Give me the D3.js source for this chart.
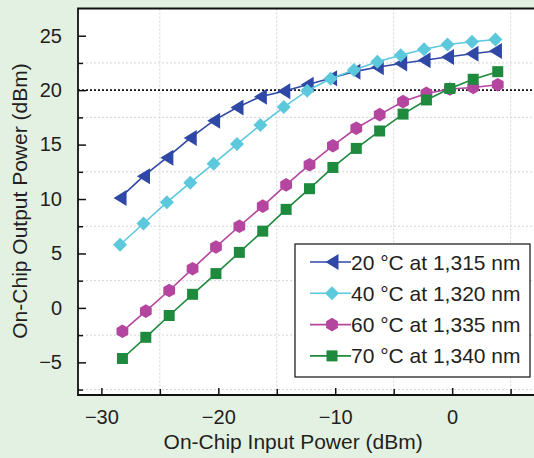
<!DOCTYPE html>
<html>
<head>
<meta charset="utf-8">
<script src="https://cdn.jsdelivr.net/npm/d3@7"></script>
<style>
  html, body { margin: 0; padding: 0; background: #e3f1e3; }
  svg { display: block; font-family: "Liberation Sans", Arial, sans-serif; }
</style>
</head>
<body>
<div id="chart"></div>
<script>
// input power (dBm) for each series
const inputA = [-28.4, -26.4, -24.4, -22.4, -20.4, -18.4, -16.4, -14.4, -12.4, -10.4, -8.4, -6.4, -4.4, -2.4, -0.4, 1.7, 3.7]
const inputB = [-28.2, -26.2, -24.2, -22.2, -20.2, -18.2, -16.2, -14.2, -12.2, -10.2, -8.2, -6.2, -4.2, -2.2, -0.2, 1.8, 3.9]

// output power (dBm)
const out20 = [10.1, 12.1, 13.8, 15.6, 17.2, 18.4, 19.4, 19.9, 20.5, 21.1, 21.7, 22.1, 22.45, 22.75, 23.05, 23.35, 23.6]
const out40 = [5.8, 7.75, 9.7, 11.5, 13.25, 15.05, 16.8, 18.45, 19.95, 21.05, 21.85, 22.6, 23.2, 23.75, 24.2, 24.45, 24.65]
const out60 = [-2.15, -0.3, 1.6, 3.6, 5.6, 7.5, 9.35, 11.3, 13.15, 14.9, 16.5, 17.75, 18.95, 19.7, 20.1, 20.25, 20.5]
const out70 = [-4.65, -2.7, -0.7, 1.25, 3.15, 5.1, 7.05, 9.05, 10.95, 12.9, 14.65, 16.25, 17.8, 19.1, 20.15, 21.0, 21.7]

const seriesNames = ['20 °C at 1,315 nm', '40 °C at 1,320 nm', '60 °C at 1,335 nm', '70 °C at 1,340 nm']

const xTicks = [-30, -20, -10, 0]
const xMinor = [-25, -15, -5, 5]
const yTicks = [-5, 0, 5, 10, 15, 20, 25]
const yMinor = [-7.5, -2.5, 2.5, 7.5, 12.5, 17.5, 22.5]
const refLevel = 20

const W = 534, H = 458
const margin = {top: 8.5, right: 0, bottom: 63, left: 78}
const width = W - margin.left - margin.right
const height = H - margin.top - margin.bottom
const textColor = '#231f20'

const xScale = d3.scaleLinear().domain([-32, 7]).range([0, width])
const yScale = d3.scaleLinear().domain([-8, 27.5]).range([height, 0])

// marker shapes, centred on 0,0
const markers = {
  triLeft: 'M-6.5,0L6.5,-8L6.5,8Z',
  diamond: 'M0,-7L7,0L0,7L-7,0Z',
  hexagon: d3.range(6).map(i => {
    const a = Math.PI / 2 + i * Math.PI / 3
    return (i ? 'L' : 'M') + (6.8 * Math.cos(a)).toFixed(2) + ',' + (-6.8 * Math.sin(a)).toFixed(2)
  }).join('') + 'Z',
  square: 'M-5.5,-5.5H5.5V5.5H-5.5Z'
}

const series = [
  {name: seriesNames[0], xs: inputA, ys: out20, color: '#2f48a6', marker: markers.triLeft},
  {name: seriesNames[1], xs: inputA, ys: out40, color: '#5cc8dc', marker: markers.diamond},
  {name: seriesNames[2], xs: inputB, ys: out60, color: '#b4469f', marker: markers.hexagon},
  {name: seriesNames[3], xs: inputB, ys: out70, color: '#1d8a3e', marker: markers.square},
]

const svg = d3.select('#chart').append('svg')
  .attr('width', W)
  .attr('height', H)

const g = svg.append('g')
  .attr('transform', 'translate(' + margin.left + ',' + margin.top + ')')

g.append('rect')
  .attr('width', width).attr('height', height)
  .attr('fill', '#fff')

// grid (at the minor positions)
g.append('g').selectAll('line')
  .data(xMinor)
  .enter().append('line')
  .attr('x1', d => xScale(d)).attr('x2', d => xScale(d))
  .attr('y1', 0).attr('y2', height)
  .attr('stroke', '#d4d4d4').attr('stroke-width', 1).attr('stroke-dasharray', '2,2')

g.append('g').selectAll('line')
  .data(yMinor)
  .enter().append('line')
  .attr('x1', 0).attr('x2', width)
  .attr('y1', d => yScale(d)).attr('y2', d => yScale(d))
  .attr('stroke', '#d4d4d4').attr('stroke-width', 1).attr('stroke-dasharray', '2,2')

// 20 dBm reference
g.append('line')
  .attr('x1', 0).attr('x2', width)
  .attr('y1', yScale(refLevel)).attr('y2', yScale(refLevel))
  .attr('stroke', '#111').attr('stroke-width', 1.6).attr('stroke-dasharray', '2,2')

// axes, ticks point inward
const fmt = d => d < 0 ? '\u2212' + Math.abs(d) : String(d)

const xAxis = g.append('g')
  .attr('transform', 'translate(0,' + height + ')')
  .call(d3.axisBottom(xScale).tickValues(xTicks).tickSize(-7).tickPadding(15).tickFormat(fmt))
xAxis.select('.domain').remove()
xAxis.selectAll('.tick line').attr('stroke', '#111').attr('stroke-width', 1.5)
xAxis.selectAll('text').attr('font-size', 20).attr('fill', textColor)

g.append('g')
  .attr('transform', 'translate(0,' + height + ')')
  .call(d3.axisBottom(xScale).tickValues(xMinor).tickSize(-6).tickFormat(''))
  .call(s => s.select('.domain').remove())
  .selectAll('.tick line').attr('stroke', '#111').attr('stroke-width', 1.5)

const yAxis = g.append('g')
  .call(d3.axisLeft(yScale).tickValues(yTicks).tickSize(-8).tickPadding(16).tickFormat(fmt))
yAxis.select('.domain').remove()
yAxis.selectAll('.tick line').attr('stroke', '#111').attr('stroke-width', 1.5)
yAxis.selectAll('text').attr('font-size', 20).attr('fill', textColor)

g.append('g')
  .call(d3.axisLeft(yScale).tickValues(yMinor).tickSize(-5).tickFormat(''))
  .call(s => s.select('.domain').remove())
  .selectAll('.tick line').attr('stroke', '#111').attr('stroke-width', 1.5)

// frame: top, left, bottom
g.append('path')
  .attr('d', 'M' + width + ',0H0V' + height + 'H' + width)
  .attr('fill', 'none').attr('stroke', '#111').attr('stroke-width', 1.8)

// series
const line = d3.line()
  .x(d => xScale(d[0]))
  .y(d => yScale(d[1]))

series.forEach(s => {
  const pts = s.xs.map((x, i) => [x, s.ys[i]])
  g.append('path')
    .datum(pts)
    .attr('fill', 'none')
    .attr('stroke', s.color)
    .attr('stroke-width', 1.6)
    .attr('d', line)

  g.append('g').selectAll('path')
    .data(pts)
    .enter().append('path')
    .attr('d', s.marker)
    .attr('fill', s.color)
    .attr('transform', d => 'translate(' + xScale(d[0]) + ',' + yScale(d[1]) + ')')
})

// legend
const legend = svg.append('g').attr('transform', 'translate(295,244)')
legend.append('rect')
  .attr('width', 235).attr('height', 133)
  .attr('fill', '#fff').attr('stroke', '#111').attr('stroke-width', 1.2)

const rows = legend.selectAll('.row')
  .data(series)
  .enter().append('g')
  .attr('class', 'row')
  .attr('transform', (d, i) => 'translate(0,' + (18 + i * 31.3) + ')')

rows.append('line')
  .attr('x1', 15).attr('x2', 56)
  .attr('stroke', d => d.color).attr('stroke-width', 1.6)
rows.append('path')
  .attr('d', d => d.marker)
  .attr('fill', d => d.color)
  .attr('transform', 'translate(37,0)')
rows.append('text')
  .attr('x', 56).attr('dy', '0.36em')
  .attr('font-size', 21)
  .attr('fill', textColor)
  .text(d => d.name)

// axis titles
svg.append('text')
  .attr('x', margin.left + xScale(-13.6)).attr('y', 449)
  .attr('text-anchor', 'middle')
  .attr('font-size', 21).attr('fill', textColor)
  .text('On-Chip Input Power (dBm)')

svg.append('text')
  .attr('transform', 'translate(27,201) rotate(-90)')
  .attr('text-anchor', 'middle')
  .attr('font-size', 21).attr('fill', textColor)
  .text('On-Chip Output Power (dBm)')
</script>
</body>
</html>
